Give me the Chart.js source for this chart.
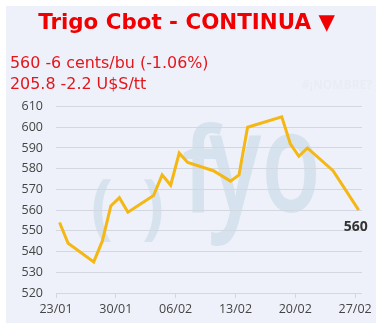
<!DOCTYPE html>
<html>
<head>
<meta charset="utf-8">
<script src="https://cdn.jsdelivr.net/npm/chart.js@4"></script>
<style>
  body { margin: 0; background: #fff; }
  #card { position: absolute; left: 6px; top: 6px; width: 370px; height: 317px; background: #eef1f9; }
  canvas { display: block; }
</style>
</head>
<body>
<div id="card"><canvas id="myChart" width="370" height="317"></canvas></div>
<script>
// datos
const fechas = ['23/01', '24/01', '27/01', '28/01', '29/01', '30/01', '31/01', '03/02', '04/02', '05/02', '06/02',
    '07/02', '10/02', '12/02', '13/02', '14/02', '18/02', '19/02', '20/02', '21/02', '24/02', '27/02'];
const precios = [554, 544, 535, 545, 562, 566, 559, 567, 577, 572, 587.5,
    583, 579, 574, 577, 600, 605, 592, 586, 590, 579, 560];
const etiquetasX = ['23/01', '30/01', '06/02', '13/02', '20/02', '27/02'];
const titulo = 'Trigo Cbot - CONTINUA ▼';
const subtitulo = ['560 -6 cents/bu (-1.06%)', '205.8 -2.2 U$S/tt'];
const HORA = 10; // hora del dato

var diaDesde = function(f) {
    let p = f.split('/');
    let d = new Date(2023, parseInt(p[1]) - 1, parseInt(p[0]));
    let base = new Date(2023, 0, 23);
    return Math.round((d - base) / 86400000);
}

const puntos = fechas.map(function(f, i) {
    return { x: diaDesde(f) + HORA / 24, y: precios[i] };
});
const ticksX = etiquetasX.map(diaDesde);

// texto escalado dentro de una caja
var textoEnCaja = function(ctx, txt, x, base, ancho, alto, font) {
    ctx.save();
    ctx.font = font;
    let m = ctx.measureText(txt);
    let h = m.actualBoundingBoxAscent;
    ctx.translate(x, base);
    ctx.scale(ancho / m.width, alto / h);
    ctx.fillText(txt, 0, 0);
    ctx.restore();
}

// marca de agua
const fondo = {
    id: 'fondo',
    beforeDraw: function(chart) {
        let ctx = chart.ctx;
        ctx.save();
        ctx.fillStyle = '#d6e3ee';
        ctx.textBaseline = 'alphabetic';
        textoEnCaja(ctx, 'f', 176, 206, 36, 90, '600 120px "Open Sans"');
        textoEnCaja(ctx, 'yo', 203, 206, 112, 79, '600 120px "Open Sans"');
        textoEnCaja(ctx, '(', 85, 225, 22, 52, 'bold 60px "Open Sans"');
        textoEnCaja(ctx, ')', 136, 225, 22, 52, 'bold 60px "Open Sans"');
        ctx.fillStyle = '#e9ecf4';
        ctx.font = 'bold 12px "Open Sans"';
        ctx.textAlign = 'right';
        ctx.fillText('#¡NOMBRE?', 366, 83);
        ctx.restore();
    }
};

const ultimo = {
    id: 'ultimo',
    afterDatasetsDraw: function(chart) {
        let meta = chart.getDatasetMeta(0);
        let pt = meta.data[meta.data.length - 1];
        let ctx = chart.ctx;
        ctx.save();
        ctx.fillStyle = '#333333';
        ctx.font = 'bold 14px "Open Sans"';
        ctx.textAlign = 'right';
        ctx.textBaseline = 'middle';
        ctx.fillText(String(precios[precios.length - 1]), pt.x + 9, pt.y + 17);
        ctx.restore();
    }
};

const config = {
    type: 'line',
    data: {
        datasets: [{
            data: puntos,
            borderColor: '#f4b713',
            borderWidth: 3,
            pointRadius: 0,
            tension: 0,
            fill: false
        }]
    },
    options: {
        responsive: false,
        animation: false,
        layout: {
            padding: { left: 4, right: 13, top: 0, bottom: 0 }
        },
        plugins: {
            legend: { display: false },
            tooltip: { enabled: false },
            title: {
                display: true,
                text: titulo,
                color: '#f00000',
                font: { family: 'DejaVu Sans', size: 21.4, weight: 'bold', lineHeight: 25.2 / 21.4 },
                padding: { top: 5, bottom: 0 }
            },
            subtitle: {
                display: true,
                text: subtitulo,
                align: 'start',
                color: '#e3161b',
                font: { family: 'DejaVu Sans', size: 15.9, weight: 'normal', lineHeight: 21 / 15.9 },
                padding: { top: 17.3, bottom: 11 }
            }
        },
        scales: {
            x: {
                type: 'linear',
                min: 0,
                max: 35.8,
                afterBuildTicks: function(scale) {
                    scale.ticks = ticksX.map(function(v) { return { value: v }; });
                },
                afterFit: function(scale) { scale.height = 30; },
                ticks: {
                    color: '#444444',
                    font: { family: 'Open Sans', size: 12.5 },
                    padding: 4,
                    maxRotation: 0,
                    callback: function(v) {
                        let i = ticksX.indexOf(v);
                        return i >= 0 ? etiquetasX[i] : '';
                    }
                },
                grid: {
                    drawOnChartArea: false,
                    drawTicks: true,
                    tickLength: 5,
                    color: '#d3d7df'
                },
                border: { display: false }
            },
            y: {
                min: 520,
                max: 610,
                afterFit: function(scale) { scale.width = 46; },
                ticks: {
                    stepSize: 10,
                    color: '#444444',
                    font: { family: 'Open Sans', size: 12.5 },
                    padding: 13
                },
                grid: {
                    color: '#d3d7df',
                    drawTicks: false
                },
                border: { display: false }
            }
        }
    },
    plugins: [fondo, ultimo]
};

var myChart = new Chart(document.getElementById('myChart'), config);
</script>
</body>
</html>
